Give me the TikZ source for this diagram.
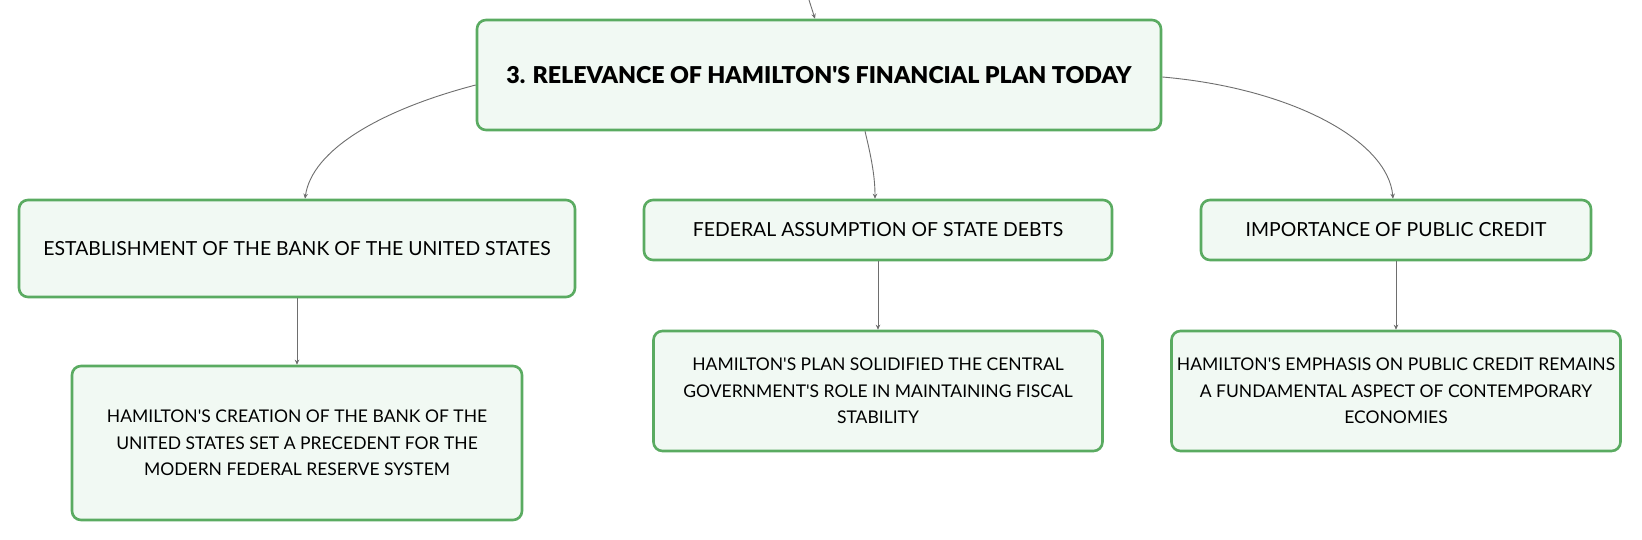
\documentclass[tikz,border=0pt]{standalone}
\usepackage{fontspec}
\setmainfont{Lato}[Ligatures=TeXOff]
\newfontfamily\rootfont{Lato Black}[Ligatures=TeXOff]
\usetikzlibrary{arrows.meta,calc}
\definecolor{boxgreen}{HTML}{5AAB61}
\definecolor{boxfill}{HTML}{F1F9F3}
\definecolor{linkgray}{HTML}{6E6E6E}
\begin{document}
\begin{tikzpicture}[x=1pt,y=-1pt,
  box/.style={draw=boxgreen, line width=2.6pt, fill=boxfill, rounded corners=9pt,
    align=center, inner sep=0pt, font=\fontsize{17.5}{26.5}\selectfont},
  midbox/.style={box, font=\fontsize{19.4}{26.5}\selectfont},
  rootbox/.style={box, font=\rootfont\fontsize{23.2}{28}\selectfont},
  link/.style={draw=linkgray, line width=0.9pt, -{Stealth[length=5pt,width=4.5pt]}}]
\useasboundingbox (0,0) rectangle (1642,540);
\fill[white] (0,0) rectangle (1642,540);

\node[rootbox, minimum width=684pt, minimum height=110pt] (root) at (819,75)
  {3. RELEVANCE OF HAMILTON'S FINANCIAL PLAN TODAY};

\node[midbox, minimum width=556pt, minimum height=97pt] (L1) at (297,248.5)
  {ESTABLISHMENT OF THE BANK OF THE UNITED STATES};
\node[midbox, minimum width=468pt, minimum height=60pt] (M1) at (878,230)
  {FEDERAL ASSUMPTION OF STATE DEBTS};
\node[midbox, minimum width=390pt, minimum height=60pt] (R1) at (1396,230)
  {IMPORTANCE OF PUBLIC CREDIT};

\node[box, minimum width=450pt, minimum height=154pt] (L2) at (297,443)
  {HAMILTON'S CREATION OF THE BANK OF THE\\UNITED STATES SET A PRECEDENT FOR THE\\MODERN FEDERAL RESERVE SYSTEM};
\node[box, minimum width=449pt, minimum height=120pt] (M2) at (878,391)
  {HAMILTON'S PLAN SOLIDIFIED THE CENTRAL\\GOVERNMENT'S ROLE IN MAINTAINING FISCAL\\STABILITY};
\node[box, minimum width=449pt, minimum height=120pt] (R2) at (1396,391)
  {HAMILTON'S EMPHASIS ON PUBLIC CREDIT REMAINS\\A FUNDAMENTAL ASPECT OF CONTEMPORARY\\ECONOMIES};

\coordinate (top) at (809,0);
\draw[link] (top) -- ($(root.north)+(-4,0)$);

\draw[link] ($(root.west)+(0,10)$) .. controls (380,110) and (312,150) .. ($(L1.north)+(8,0)$);
\draw[link] ($(root.south)+(46,0)$) .. controls (872,160) and (875,178) .. ($(M1.north)+(-3,0)$);
\draw[link] ($(root.east)+(0,2)$) .. controls (1290,88) and (1388,140) .. ($(R1.north)+(-3,0)$);

\draw[link] (L1.south) -- (L2.north);
\draw[link] (M1.south) -- (M2.north);
\draw[link] (R1.south) -- (R2.north);
\end{tikzpicture}
\end{document}
